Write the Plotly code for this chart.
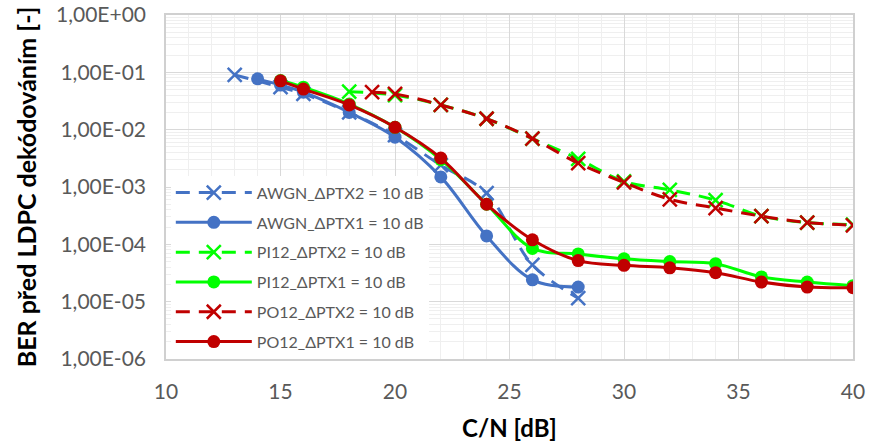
import plotly.graph_objects as go

# ---- data ----
x_awgn2 = [13, 15, 16, 18, 20, 22, 24, 26, 28]
ber_awgn2 = [9.0e-2, 5.5e-2, 4.2e-2, 2.0e-2, 8.0e-3, 2.4e-3, 7.8e-4, 4.4e-5, 1.15e-5]

x_awgn1 = [14, 15, 16, 18, 20, 22, 24, 26, 28]
ber_awgn1 = [7.7e-2, 6.0e-2, 4.5e-2, 2.0e-2, 7.4e-3, 1.5e-3, 1.4e-4, 2.4e-5, 1.8e-5]

x_pi2 = [18, 20, 22, 24, 26, 28, 30, 32, 34, 36, 38, 40]
ber_pi2 = [4.6e-2, 4.0e-2, 2.7e-2, 1.55e-2, 7.0e-3, 3.1e-3, 1.25e-3, 8.9e-4, 5.9e-4, 3.1e-4, 2.4e-4, 2.2e-4]

x_pi1 = [15, 16, 18, 20, 22, 24, 26, 28, 30, 32, 34, 36, 38, 40]
ber_pi1 = [7.2e-2, 5.5e-2, 2.8e-2, 1.1e-2, 3.0e-3, 5.0e-4, 8.5e-5, 6.8e-5, 5.6e-5, 5.0e-5, 4.6e-5, 2.7e-5, 2.2e-5, 1.9e-5]

x_po2 = [19, 20, 22, 24, 26, 28, 30, 32, 34, 36, 38, 40]
ber_po2 = [4.5e-2, 4.2e-2, 2.7e-2, 1.55e-2, 7.0e-3, 2.6e-3, 1.2e-3, 6.1e-4, 4.3e-4, 3.1e-4, 2.4e-4, 2.15e-4]

x_po1 = [15, 16, 18, 20, 22, 24, 26, 28, 30, 32, 34, 36, 38, 40]
ber_po1 = [7.1e-2, 5.1e-2, 2.7e-2, 1.1e-2, 3.2e-3, 5.0e-4, 1.2e-4, 5.2e-5, 4.3e-5, 3.9e-5, 3.2e-5, 2.2e-5, 1.8e-5, 1.75e-5]

names = ["AWGN_ΔPTX2 = 10 dB", "AWGN_ΔPTX1 = 10 dB",
         "PI12_ΔPTX2 = 10 dB", "PI12_ΔPTX1 = 10 dB",
         "PO12_ΔPTX2 = 10 dB", "PO12_ΔPTX1 = 10 dB"]

y_tickvals = [1e0, 1e-1, 1e-2, 1e-3, 1e-4, 1e-5, 1e-6]
y_ticktext = ["1,00E+00", "1,00E-01", "1,00E-02", "1,00E-03", "1,00E-04", "1,00E-05", "1,00E-06"]
x_tickvals = [10, 15, 20, 25, 30, 35, 40]

BLUE = "#4472C4"
GREEN = "#00FF00"
RED = "#C00000"
DASH = "14px,9px"

series = [
    (x_awgn2, ber_awgn2, names[0], BLUE, True),
    (x_awgn1, ber_awgn1, names[1], BLUE, False),
    (x_pi2, ber_pi2, names[2], GREEN, True),
    (x_pi1, ber_pi1, names[3], GREEN, False),
    (x_po2, ber_po2, names[4], RED, True),
    (x_po1, ber_po1, names[5], RED, False),
]

fig = go.Figure()
for i, (xs, ys, nm, col, dashed) in enumerate(series):
    if dashed:
        marker = dict(symbol="x-thin", size=14, color=col, line=dict(color=col, width=2.5))
        line = dict(color=col, width=3, dash=DASH, shape="spline")
    else:
        marker = dict(symbol="circle", size=13, color=col, line=dict(width=0))
        line = dict(color=col, width=3, shape="spline")
    fig.add_trace(go.Scatter(x=xs, y=ys, name=nm, mode="lines+markers",
                             line=line, marker=marker, legendgroup="g%d" % i))

minor_y = [m * 10.0 ** k for k in range(-6, 0) for m in range(2, 10)]

fig.update_layout(
    width=870, height=447,
    margin=dict(l=166, r=17, t=15, b=88, autoexpand=False),
    paper_bgcolor="white", plot_bgcolor="white",
    font=dict(family="Lato", color="#595959"),
    showlegend=True,
    legend=dict(x=0.007, y=0.533, xanchor="left", yanchor="top",
                bgcolor="white", borderwidth=0,
                font=dict(family="Lato", size=16, color="#595959"),
                tracegroupgap=6, itemwidth=76),
    xaxis=dict(range=[10, 40], tickvals=x_tickvals, ticks="", automargin=False,
               tickfont=dict(family="Lato", size=21, color="#595959"),
               ticklabelstandoff=13,
               showgrid=True, gridcolor="#d9d9d9", gridwidth=1.3,
               minor=dict(dtick=1, showgrid=True, gridcolor="#efefef", gridwidth=1),
               showline=True, mirror=True, linecolor="#d0d0d0", linewidth=1.5,
               zeroline=False,
               title=dict(text="<b>C/N [dB]</b>", standoff=18,
                          font=dict(family="Lato", size=24, color="#000000"))),
    yaxis=dict(type="log", range=[-6, 0], tickvals=y_tickvals, ticktext=y_ticktext,
               ticks="", automargin=False,
               tickfont=dict(family="Lato", size=21, color="#595959"),
               ticklabelstandoff=14,
               showgrid=True, gridcolor="#d9d9d9", gridwidth=1.3,
               minor=dict(tickvals=minor_y, showgrid=True, gridcolor="#efefef", gridwidth=1),
               showline=True, mirror=True, linecolor="#d0d0d0", linewidth=1.5,
               zeroline=False,
               title=dict(text="<b>BER před LDPC dekódováním [-]</b>", standoff=12,
                          font=dict(family="Lato", size=25, color="#000000"))),
)

fig.write_html("out.html", config={"displayModeBar": False},
               post_script="document.body.style.margin='0';document.body.style.padding='0';")
